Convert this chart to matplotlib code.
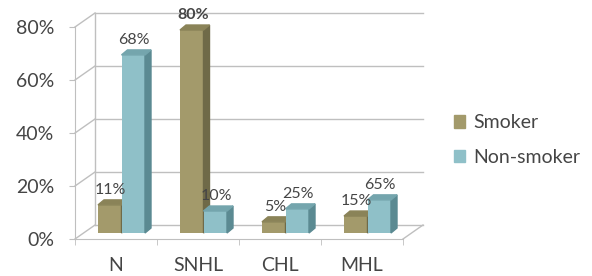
import matplotlib
matplotlib.use('Agg')
import matplotlib.pyplot as plt
from matplotlib.patches import Polygon, Patch
import numpy as np

categories = ['N', 'SNHL', 'CHL', 'MHL']
series = ['Smoker', 'Non-smoker']
smoker = [10.6, 76.6, 4.2, 6.4]
non_smoker = [67.2, 8.3, 9.1, 12.5]
smoker_labels = ['11%', '80%', '5%', '15%']
non_smoker_labels = ['68%', '10%', '25%', '65%']
yticks = [0, 20, 40, 60, 80]

plt.rcParams['font.family'] = ['Lato', 'DejaVu Sans']
txt = '#454545'
grid = '#BFBFBF'
# front, side, top
col_s = ['#A39A6B', '#6F6A48', '#8A8358']
col_n = ['#8FC0C8', '#5B8A92', '#74A5AD']

W, H = 592, 276
fig = plt.figure(figsize=(W / 100, H / 100), dpi=100)
ax = fig.add_axes([75 / W, (H - 239) / H, 328 / W, 212 / H])
ax.set_xlim(-0.5, 3.5)
ax.set_ylim(0, 80)

# one pixel in data units
px = 4 / 328
py = 80 / 212

# walls / floor
wx, wy = 20 * px, 14 * py
for v in yticks:
    ax.plot([-0.5 + wx, 3.5 + wx], [v + wy, v + wy], color=grid, lw=1, clip_on=False, zorder=0)
    ax.plot([-0.5, -0.5 + wx], [v, v + wy], color=grid, lw=1, clip_on=False, zorder=0)
ax.plot([-0.5 + wx, -0.5 + wx], [wy, 80 + wy], color=grid, lw=1, clip_on=False, zorder=0)
ax.plot([3.5, 3.5 + wx], [0, wy], color=grid, lw=1, clip_on=False, zorder=0)

# bars
bw = 23.5 * px
bx, by = 5.5 * px, 6 * py
dx, dy = 6 * px, 5 * py
x = np.arange(len(categories))
for j, (vals, cols, labs) in enumerate([(smoker, col_s, smoker_labels),
                                        (non_smoker, col_n, non_smoker_labels)]):
    left = x + bx + (j - 1) * bw
    z = 2 + j
    ax.bar(left, vals, width=bw, bottom=by, align='edge', color=cols[0], zorder=z)
    for i, h in enumerate(vals):
        x0, x1 = left[i], left[i] + bw
        top = by + h
        ax.add_patch(Polygon([(x1, by), (x1 + dx, by + dy), (x1 + dx, top + dy), (x1, top)],
                             closed=True, color=cols[1], zorder=z + 0.5, clip_on=False))
        ax.add_patch(Polygon([(x0, top), (x0 + dx, top + dy), (x1 + dx, top + dy), (x1, top)],
                             closed=True, color=cols[2], zorder=z + 0.5, clip_on=False))
        ax.annotate(labs[i], (x0 + bw / 2, top), xytext=(1, 15), textcoords='offset pixels',
                    ha='center', va='center', fontsize=11.5, color=txt, zorder=5,
                    fontweight='bold' if labs[i] == '80%' else 'normal')

# axes
for s in ['top', 'right']:
    ax.spines[s].set_visible(False)
for s in ['left', 'bottom']:
    ax.spines[s].set_color(grid)
ax.set_yticks(yticks, [f'{v}%' for v in yticks])
ax.tick_params(axis='y', length=4, color=grid, pad=11, labelsize=14, labelcolor=txt)
ax.set_xticks(x, categories)
ax.set_xticks(np.arange(-0.5, 4), minor=True)
ax.tick_params(axis='x', which='major', length=0, pad=13, labelsize=14, labelcolor=txt)
ax.tick_params(axis='x', which='minor', length=4, color=grid)

handles = [Patch(color=col_s[0]), Patch(color=col_n[0])]
fig.legend(handles, series, loc='center left', bbox_to_anchor=(436 / W, 1 - 140 / H),
           frameon=False, fontsize=14, labelcolor=txt, handlelength=0.6, handleheight=0.6,
           handletextpad=0.4, labelspacing=0.9)

fig.savefig('out.png', dpi=100)
